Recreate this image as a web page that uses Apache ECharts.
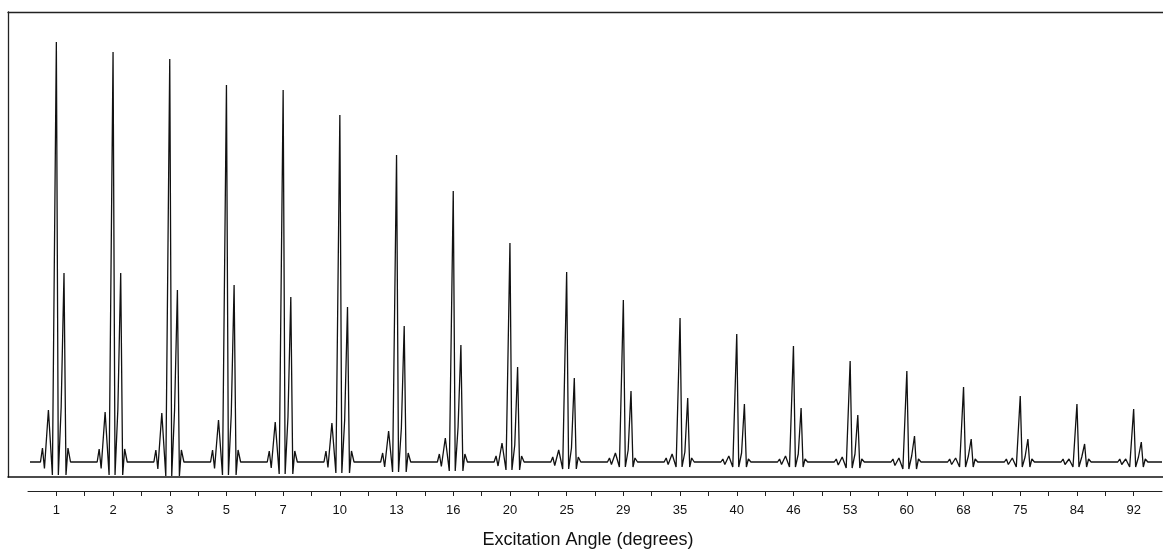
<!DOCTYPE html>
<html>
<head>
<meta charset="utf-8">
<style>
html,body{margin:0;padding:0;background:#fff;}
#chart{width:1163px;height:556px;}
</style>
<script src="https://cdn.jsdelivr.net/npm/echarts@6/dist/echarts.min.js"></script>
</head>
<body>
<div id="chart"></div>
<script>
// Excitation angles (tick labels), one peak group per angle
var angles   = [1, 2, 3, 5, 7, 10, 13, 16, 20, 25, 29, 35, 40, 46, 53, 60, 68, 75, 84, 92];
// Heights above the baseline (arbitrary intensity units)
var mainPeak = [420, 410, 403, 377, 372, 347, 307, 271, 219, 190, 162, 144, 128, 116, 101, 91, 75, 66, 58, 53];
var secondPeak = [189, 189, 172, 177, 165, 155, 136, 117, 95, 84, 71, 64, 58, 54, 47, 26, 23, 23, 18, 20];
var leftLobe = [52, 50, 49, 42, 40, 39, 31, 24, 19, 12, 9, 8, 6, 6, 5, 4, 4, 4, 3, 3];
var shoulder = [55, 53, 52, 48, 45, 42, 34, 35, 17, 14, 12, 10, 9, 8, 8, 6, 6, 5, 5, 5];
var dipDepth = [13, 13, 14, 13, 12, 11, 10, 9, 8, 7, 5, 5, 5, 5, 6, 7, 5, 5, 5, 5];
var sideBump = [14, 13, 12, 12, 11, 11, 9, 8, 6, 5, 4, 4, 3, 3, 3, 3, 3, 3, 3, 3];

// Build the trace: each group sits at axis position 2*i+1
var trace = [[0.07, 0]];
for (var i = 0; i < angles.length; i++) {
  var c = 2 * i + 1;
  trace.push([c - 0.56, 0]);
  trace.push([c - 0.49, sideBump[i]]);
  trace.push([c - 0.42, -dipDepth[i] / 2]);
  trace.push([c - 0.28, leftLobe[i]]);
  trace.push([c - 0.14, -dipDepth[i]]);
  trace.push([c, mainPeak[i]]);
  trace.push([c + 0.07, -dipDepth[i]]);
  trace.push([c + 0.17, shoulder[i]]);
  trace.push([c + 0.27, secondPeak[i]]);
  trace.push([c + 0.34, -dipDepth[i]]);
  trace.push([c + 0.41, sideBump[i]]);
  trace.push([c + 0.5, 0]);
}
trace.push([40, 0]);

var chart = echarts.init(document.getElementById('chart'), null, {renderer: 'canvas'});
var font = '"Liberation Sans", Arial, sans-serif';
chart.setOption({
  animation: false,
  backgroundColor: '#fff',
  grid: [
    {left: 8, top: 12, right: 0, bottom: 79},
    {left: 28, top: 12, right: 1, bottom: 79}
  ],
  xAxis: [
    {gridIndex: 0, type: 'value', min: 0, max: 1, position: 'bottom',
     axisLine: {show: true, lineStyle: {color: '#111', width: 1.5}},
     axisTick: {show: false}, axisLabel: {show: false}, splitLine: {show: false}},
    {gridIndex: 0, type: 'value', min: 0, max: 1, position: 'top',
     axisLine: {show: true, lineStyle: {color: '#222', width: 1.3}},
     axisTick: {show: false}, axisLabel: {show: false}, splitLine: {show: false}},
    {gridIndex: 1, type: 'value', min: 0, max: 40, interval: 1, position: 'bottom', offset: 14,
     axisLine: {show: true, onZero: false, lineStyle: {color: '#222', width: 1}},
     axisTick: {show: true, length: 5, inside: false, lineStyle: {color: '#222', width: 1}},
     axisLabel: {
       show: true, margin: 13, fontSize: 13, color: '#111', fontFamily: font,
       showMinLabel: false, showMaxLabel: false,
       formatter: function (v) {
         if (v % 2 === 1) { return String(angles[(v - 1) / 2]); }
         return '';
       }
     },
     splitLine: {show: false},
     name: 'Excitation Angle (degrees)', nameLocation: 'middle', nameGap: 40,
     nameTextStyle: {fontSize: 18, color: '#111', fontFamily: font, padding: [0, 14, 0, 0]}}
  ],
  yAxis: [
    {gridIndex: 0, type: 'value', min: 0, max: 1,
     axisLine: {show: true, lineStyle: {color: '#222', width: 1.3}},
     axisTick: {show: false}, axisLabel: {show: false}, splitLine: {show: false}},
    {gridIndex: 1, type: 'value', min: -15, max: 450,
     axisLine: {show: false}, axisTick: {show: false}, axisLabel: {show: false}, splitLine: {show: false}}
  ],
  series: [
    {type: 'line', xAxisIndex: 2, yAxisIndex: 1, data: trace, symbol: 'none',
     lineStyle: {color: '#111', width: 1.3}, silent: true}
  ]
});
</script>
</body>
</html>
